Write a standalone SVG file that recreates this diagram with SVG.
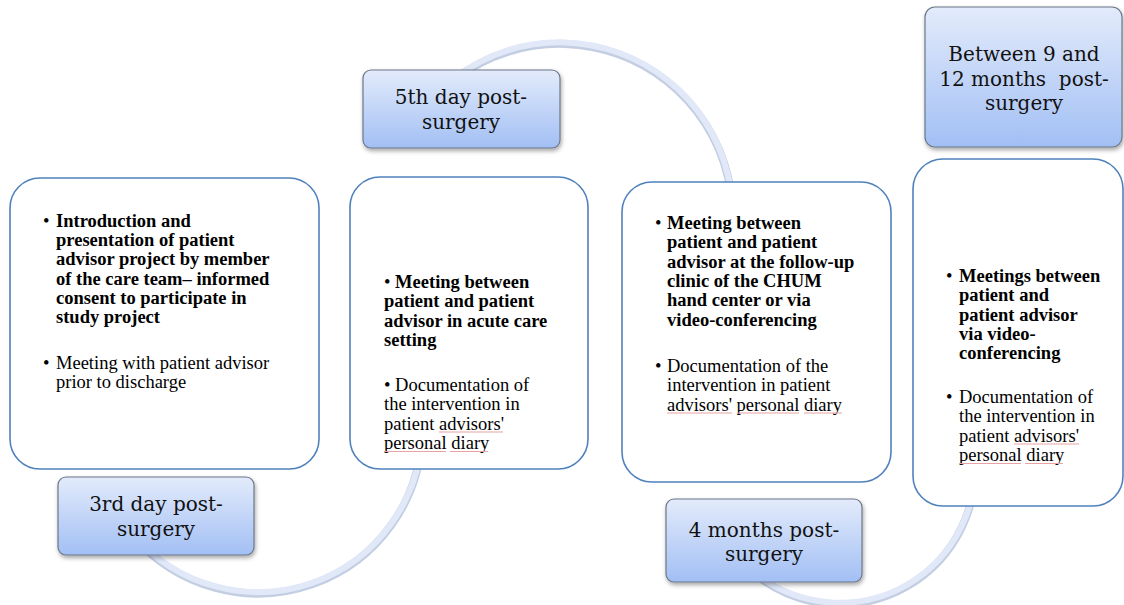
<svg xmlns="http://www.w3.org/2000/svg" width="1124" height="605" viewBox="0 0 1124 605">
<style>
.box{fill:#fff;stroke:#4f81bd;stroke-width:1.6}
.lbl{fill:url(#lg);stroke:#6b7789;stroke-width:1.2;filter:url(#sh)}
.lt{font-family:"DejaVu Serif",serif;font-size:20px;fill:#111;text-anchor:middle}
.b{font-family:"Liberation Serif","Times New Roman",serif;font-size:18.5px;font-weight:bold;fill:#000}
.r{font-family:"Liberation Serif","Times New Roman",serif;font-size:18.5px;fill:#000}
.arcS{fill:none;stroke:#c3cee2;stroke-width:8;stroke-linecap:round}
.arc{fill:none;stroke:#e1e9f9;stroke-width:6;stroke-linecap:round}
.sp{stroke:#e7a3a3;stroke-width:1;fill:none}
</style>
<defs>
<linearGradient id="lg" x1="0" y1="0" x2="0" y2="1">
<stop offset="0" stop-color="#e3ebfb"/>
<stop offset="1" stop-color="#a2bff4"/>
</linearGradient>
<filter id="sh" x="-10%" y="-10%" width="125%" height="130%">
<feDropShadow dx="1" dy="2.5" stdDeviation="2" flood-color="#000" flood-opacity="0.35"/>
</filter>
</defs>
<rect width="1124" height="605" fill="#fff"/>
<g id="connectors">
<path class="arcS" transform="translate(0,1.5)" d="M132,533 A164,164 0 0 0 422,430"/>
<path class="arc" d="M132,533 A164,164 0 0 0 422,430"/>
<path class="arcS" transform="translate(0,1.5)" d="M418,116 A173,173 0 0 1 732,230"/>
<path class="arc" d="M418,116 A173,173 0 0 1 732,230"/>
<path class="arcS" transform="translate(0,1.5)" d="M753,571 A135,135 0 0 0 973,445"/>
<path class="arc" d="M753,571 A135,135 0 0 0 973,445"/>
</g>
<g id="box1">
<rect class="box" x="10" y="178" width="309" height="291" rx="30"/>
<text class="r" x="43" y="227">•</text>
<text class="b"><tspan x="56" y="227">Introduction and</tspan><tspan x="56" y="246.2">presentation of patient</tspan><tspan x="56" y="265.4">advisor project by member</tspan><tspan x="56" y="284.6">of the care team– informed</tspan><tspan x="56" y="303.8">consent to participate in</tspan><tspan x="56" y="323">study project</tspan></text>
<text class="r" x="43" y="369">•</text>
<text class="r"><tspan x="56" y="369">Meeting with patient advisor</tspan><tspan x="56" y="388">prior to discharge</tspan></text>
</g>
<g id="box2">
<rect class="box" x="350" y="177" width="238" height="292" rx="30"/>
<text class="b"><tspan x="384" y="288"><tspan font-weight="normal">•</tspan> Meeting between</tspan><tspan x="384" y="307.3">patient and patient</tspan><tspan x="384" y="326.6">advisor in acute care</tspan><tspan x="384" y="346">setting</tspan></text>
<text class="r"><tspan x="384" y="391">• Documentation of</tspan><tspan x="384" y="410.3">the intervention in</tspan><tspan x="384" y="429.6">patient advisors'</tspan><tspan x="384" y="449">personal diary</tspan></text>
<path class="sp" d="M439,432 L503,432 M384,451.5 L446,451.5 M450,451.5 L488,451.5"/>
</g>
<g id="box3">
<rect class="box" x="622" y="182" width="269" height="300" rx="30"/>
<text class="r" x="655" y="229">•</text>
<text class="b"><tspan x="667" y="229">Meeting between</tspan><tspan x="667" y="248.3">patient and patient</tspan><tspan x="667" y="267.6">advisor at the follow-up</tspan><tspan x="667" y="287">clinic of the CHUM</tspan><tspan x="667" y="306.3">hand center or via</tspan><tspan x="667" y="325.6">video-conferencing</tspan></text>
<text class="r" x="655" y="372">•</text>
<text class="r"><tspan x="667" y="372">Documentation of the</tspan><tspan x="667" y="391.3">intervention in patient</tspan><tspan x="667" y="410.6">advisors' personal diary</tspan></text>
<path class="sp" d="M667,413 L732,413 M737,413 L799,413 M804,413 L842,413"/>
</g>
<g id="box4">
<rect class="box" x="913" y="159" width="210" height="347" rx="30"/>
<text class="r" x="946" y="282">•</text>
<text class="b"><tspan x="959" y="282">Meetings between</tspan><tspan x="959" y="301.3">patient and</tspan><tspan x="959" y="320.6">patient advisor</tspan><tspan x="959" y="340">via video-</tspan><tspan x="959" y="359.3">conferencing</tspan></text>
<text class="r" x="946" y="403">•</text>
<text class="r"><tspan x="959" y="403">Documentation of</tspan><tspan x="959" y="422.3">the intervention in</tspan><tspan x="959" y="441.6">patient advisors'</tspan><tspan x="959" y="461">personal diary</tspan></text>
<path class="sp" d="M1014,444 L1079,444 M959,463.5 L1021,463.5 M1025,463.5 L1063,463.5"/>
</g>
<g id="label3rd">
<rect class="lbl" x="58" y="477" width="196" height="78" rx="8"/>
<text class="lt"><tspan x="156" y="511">3rd day post-</tspan><tspan x="156" y="536">surgery</tspan></text>
</g>
<g id="label5th">
<rect class="lbl" x="363" y="70" width="197" height="78" rx="8"/>
<text class="lt"><tspan x="461" y="104">5th day post-</tspan><tspan x="461" y="129">surgery</tspan></text>
</g>
<g id="label4m">
<rect class="lbl" x="666" y="499" width="196" height="83" rx="8"/>
<text class="lt"><tspan x="764" y="537">4 months post-</tspan><tspan x="764" y="561">surgery</tspan></text>
</g>
<g id="label9to12">
<rect class="lbl" x="925" y="7" width="197" height="140" rx="10"/>
<text class="lt" xml:space="preserve"><tspan x="1024" y="61">Between 9 and</tspan><tspan x="1024" y="86">12 months  post-</tspan><tspan x="1024" y="110">surgery</tspan></text>
</g>
</svg>
